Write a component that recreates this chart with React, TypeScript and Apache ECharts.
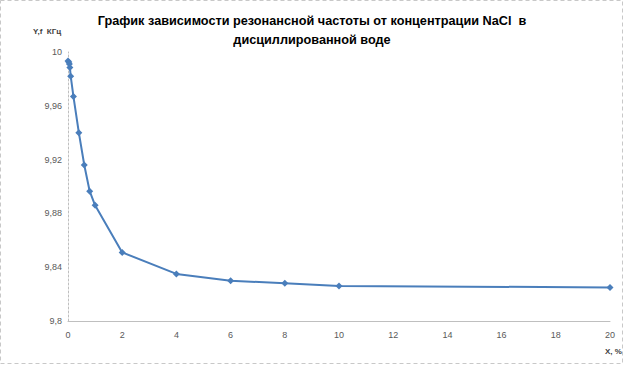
import React, { useEffect, useRef } from "react";
import * as echarts from "echarts";

const xValues = [0, 0.03, 0.05, 0.07, 0.1, 0.2, 0.4, 0.6, 0.8, 1, 2, 4, 6, 8, 10, 20];
const yValues = [9.9933, 9.9925, 9.991, 9.9885, 9.982, 9.967, 9.94, 9.916, 9.8965, 9.886, 9.851, 9.835, 9.830, 9.828, 9.826, 9.825];
const titleLines = ["График зависимости резонансной частоты от концентрации NaCl  в", "дисциллированной воде"];
const yAxisName = "Y,f  КГц";
const xAxisName = "X, %";

export default function App() {
  const ref = useRef<HTMLDivElement>(null);
  useEffect(() => {
    if (!ref.current) return;
    document.body.style.margin = "0";
    const chart = echarts.init(ref.current, null, { renderer: "svg" });
    const data = xValues.map((x, i) => [x, yValues[i]]);
    chart.setOption({
      animation: false,
      backgroundColor: "#ffffff",
      title: {
        text: titleLines.join("\n"),
        left: "center",
        top: 6,
        textStyle: {
          fontFamily: "Liberation Sans",
          fontWeight: "bold",
          fontSize: 12.7,
          lineHeight: 19,
          color: "#000000",
        },
      },
      graphic: [
        {
          type: "rect",
          shape: { x: 0.5, y: 0.5, width: 622, height: 363 },
          style: { fill: "none", stroke: "#c8c8c8", lineWidth: 1, lineDash: [4, 3] },
          silent: true,
        },
        {
          type: "text",
          x: 33,
          y: 27,
          style: { text: yAxisName, font: "bold 8px 'Liberation Sans'", fill: "#404040" },
        },
        {
          type: "text",
          x: 605,
          y: 347,
          style: { text: xAxisName, font: "bold 8px 'Liberation Sans'", fill: "#404040" },
        },
      ],
      grid: { left: 68, right: 14, top: 52, bottom: 45, containLabel: false },
      xAxis: {
        type: "value",
        min: 0,
        max: 20,
        interval: 2,
        axisLine: { show: true, lineStyle: { color: "#bfbfbf", width: 1 } },
        axisTick: { show: false },
        splitLine: { show: false },
        axisLabel: { color: "#595959", fontSize: 9, fontFamily: "Liberation Sans", margin: 9 },
      },
      yAxis: {
        type: "value",
        min: 9.8,
        max: 10,
        interval: 0.04,
        axisLine: { show: true, lineStyle: { color: "#bfbfbf", width: 1, type: [2, 2] } },
        axisTick: { show: false },
        splitLine: { show: false },
        axisLabel: {
          color: "#595959",
          fontSize: 9,
          fontFamily: "Liberation Sans",
          margin: 6,
          formatter: (v: number) => String(+v.toFixed(2)).replace(".", ","),
        },
      },
      series: [
        {
          type: "line",
          data,
          symbol: "diamond",
          symbolSize: 7,
          lineStyle: { color: "#4a7ebb", width: 2 },
          itemStyle: { color: "#4a7ebb" },
        },
      ],
    });
    return () => chart.dispose();
  }, []);
  return <div ref={ref} style={{ width: 624, height: 366 }} />;
}
